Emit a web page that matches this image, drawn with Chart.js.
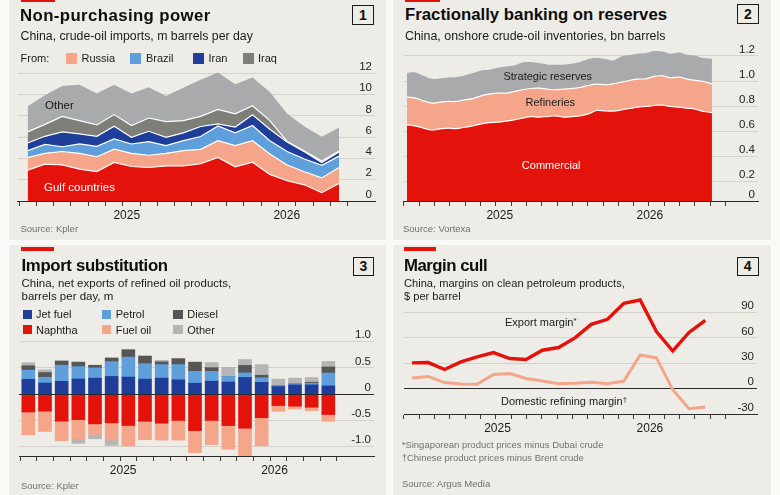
<!DOCTYPE html>
<html><head><meta charset="utf-8">
<script src="https://cdn.jsdelivr.net/npm/chart.js@4.4.1/dist/chart.umd.min.js"></script>
<style>
html,body{margin:0;padding:0}
body{width:780px;height:495px;background:#f9f9f7;position:relative;overflow:hidden;font-family:"Liberation Sans",Arial,sans-serif;color:#141414}
.panel{position:absolute;background:#eeece7}
.tag{position:absolute;background:#e3120b}
.t{position:absolute;white-space:nowrap;line-height:1;transform:translateY(-50%);z-index:5}
.c{transform:translate(-50%,-50%)}
.title{font-weight:700;font-size:16.8px;color:#0d0d0d}
.sub{font-size:11.5px;color:#1a1a1a}
.lg{font-size:11px;color:#1a1a1a}
.src{font-size:9.5px;color:#707070}
.in{font-size:11px;color:#1a1a1a}
.box{position:absolute;border:1.3px solid #1a1a1a;font-weight:700;font-size:14px;display:flex;align-items:center;justify-content:center;box-sizing:border-box;color:#111}
.sw{position:absolute}
canvas{position:absolute}
sup{font-size:0.72em;vertical-align:top;line-height:1}
</style></head><body>

<div class="panel" style="left:9px;top:0;width:377px;height:240px"></div>
<div class="panel" style="left:393px;top:0;width:378px;height:240px"></div>
<div class="panel" style="left:9px;top:245px;width:377px;height:250px"></div>
<div class="panel" style="left:393px;top:245px;width:378px;height:250px"></div>

<div class="tag" style="left:21px;top:0;width:34px;height:2px"></div>
<div class="tag" style="left:405px;top:0;width:35px;height:2px"></div>
<div class="tag" style="left:21px;top:247px;width:33px;height:4px"></div>
<div class="tag" style="left:404px;top:247px;width:32px;height:4px"></div>

<canvas id="c1" width="366" height="174" style="left:17px;top:53px"></canvas>
<canvas id="c2" width="364" height="193" style="left:402px;top:34px"></canvas>
<canvas id="c3" width="364" height="162" style="left:18px;top:320px"></canvas>
<canvas id="c4" width="363" height="153" style="left:402px;top:287px"></canvas>

<!-- Panel 1 text -->
<div class="t title" style="left:20px;top:15.5px;letter-spacing:0.4px">Non-purchasing power</div>
<div class="box" style="left:352px;top:5px;width:22px;height:20px">1</div>
<div class="t sub" style="left:20.5px;top:36px;font-size:12.3px">China, crude-oil imports, m barrels per day</div>
<div class="t lg" style="left:20.5px;top:58px">From:</div>
<div class="sw" style="left:65.5px;top:52.5px;width:11px;height:11px;background:#f4a58a"></div>
<div class="t lg" style="left:81.5px;top:58px">Russia</div>
<div class="sw" style="left:130px;top:52.5px;width:11px;height:11px;background:#5e9fdc"></div>
<div class="t lg" style="left:146px;top:58px">Brazil</div>
<div class="sw" style="left:193px;top:52.5px;width:11px;height:11px;background:#1f3e9a"></div>
<div class="t lg" style="left:208.5px;top:58px">Iran</div>
<div class="sw" style="left:243px;top:52.5px;width:11px;height:11px;background:#7e7f79"></div>
<div class="t lg" style="left:258px;top:58px">Iraq</div>
<div class="t in" style="left:45px;top:106px;font-size:11.5px">Other</div>
<div class="t in" style="left:44px;top:188px;font-size:11.5px;color:#fff">Gulf countries</div>
<div class="t src" style="left:20.5px;top:229px">Source: Kpler</div>

<!-- Panel 2 text -->
<div class="t title" style="left:405px;top:15px">Fractionally banking on reserves</div>
<div class="box" style="left:737px;top:4px;width:22px;height:20px">2</div>
<div class="t sub" style="left:405px;top:36px;font-size:12.4px">China, onshore crude-oil inventories, bn barrels</div>
<div class="t in c" style="left:547.8px;top:76px">Strategic reserves</div>
<div class="t in c" style="left:550.3px;top:101.7px">Refineries</div>
<div class="t in c" style="left:551.2px;top:165px;color:#fff">Commercial</div>
<div class="t src" style="left:403px;top:229px">Source: Vortexa</div>

<!-- Panel 3 text -->
<div class="t title" style="left:21.5px;top:265.7px;letter-spacing:-0.35px">Import substitution</div>
<div class="box" style="left:353px;top:256.5px;width:21px;height:19.5px">3</div>
<div class="t sub" style="left:21.5px;top:284.3px">China, net exports of refined oil products,</div>
<div class="t sub" style="left:21.5px;top:296.7px">barrels per day, m</div>
<div class="sw" style="left:22.5px;top:309.5px;width:9.5px;height:9.5px;background:#1f3e9a"></div>
<div class="t lg" style="left:36px;top:314.3px">Jet fuel</div>
<div class="sw" style="left:101.5px;top:309.5px;width:9.5px;height:9.5px;background:#5e9fdc"></div>
<div class="t lg" style="left:115.7px;top:314.3px">Petrol</div>
<div class="sw" style="left:173.3px;top:309.5px;width:9.5px;height:9.5px;background:#565656"></div>
<div class="t lg" style="left:187.3px;top:314.3px">Diesel</div>
<div class="sw" style="left:22.5px;top:324.7px;width:9.5px;height:9.5px;background:#e3120b"></div>
<div class="t lg" style="left:36px;top:329.5px">Naphtha</div>
<div class="sw" style="left:101.5px;top:324.7px;width:9.5px;height:9.5px;background:#f4a58a"></div>
<div class="t lg" style="left:115.7px;top:329.5px">Fuel oil</div>
<div class="sw" style="left:173.3px;top:324.7px;width:9.5px;height:9.5px;background:#b5b5b5"></div>
<div class="t lg" style="left:187.3px;top:329.5px">Other</div>
<div class="t src" style="left:21px;top:485.7px">Source: Kpler</div>

<!-- Panel 4 text -->
<div class="t title" style="left:404px;top:265.7px;letter-spacing:-0.5px">Margin cull</div>
<div class="box" style="left:737px;top:256.5px;width:21.5px;height:19.5px">4</div>
<div class="t sub" style="left:404px;top:284.3px;font-size:11.1px">China, margins on clean petroleum products,</div>
<div class="t sub" style="left:404px;top:296.7px;font-size:11.1px">$ per barrel</div>
<div class="t in" style="left:505px;top:322px">Export margin<sup>*</sup></div>
<div class="t in" style="left:501px;top:400.7px">Domestic refining margin<sup>†</sup></div>
<div class="t src" style="left:401.7px;top:445px">*Singaporean product prices minus Dubai crude</div>
<div class="t src" style="left:401.7px;top:458.3px">†Chinese product prices minus Brent crude</div>
<div class="t src" style="left:402px;top:484.3px">Source: Argus Media</div>

<script>
// ---------------- Panel 1: crude imports, m b/d (monthly) ----------------
const p1Gulf   = [2.9,3.47,3.4,3.0,2.77,3.62,3.24,3.15,3.3,3.3,3.5,4.1,3.22,3.65,2.5,1.9,1.52,0.78,1.65];
const p1Russia = [1.17,1.01,1.25,1.48,1.39,1.26,1.24,1.15,1.18,1.43,1.35,1.57,1.98,2.02,1.91,1.48,1.23,1.39,1.5];
const p1Brazil = [0.66,0.84,0.45,0.88,0.97,0.95,0.88,1.28,0.72,0.94,1.21,1.38,1.2,1.43,1.26,1.27,1.2,1.18,1.07];
const p1Iran   = [0.72,0.76,1.4,0.94,0.95,1.2,0.62,0.97,0.78,0.73,0.94,0.2,0.55,1.0,1.08,0.9,0.67,0.27,0.38];
const p1Iraq   = [1.05,1.12,1.45,1.25,1.07,1.09,1.12,1.25,1.48,1.16,0.95,1.35,1.25,0.85,0.8,0.05,0.08,0.13,0.1];
const p1Other  = [2.4,2.75,2.85,3.37,2.95,2.8,3.0,2.88,2.42,3.09,3.45,3.48,2.78,2.65,2.7,2.6,2.3,2.3,2.2];
const p1YTicks = [0,2,4,6,8,10,12];

// ---------------- Panel 2: inventories, bn barrels (fortnightly) ----------------
const p2Commercial = [0.652,0.644,0.626,0.612,0.62,0.626,0.622,0.633,0.644,0.66,0.67,0.673,0.681,0.692,0.705,0.718,0.713,0.718,0.724,0.713,0.718,0.724,0.739,0.766,0.763,0.761,0.771,0.782,0.793,0.798,0.806,0.809,0.798,0.793,0.785,0.777,0.758,0.75];
const p2Refineries = [0.22,0.221,0.217,0.213,0.213,0.212,0.216,0.218,0.217,0.223,0.226,0.231,0.223,0.225,0.226,0.223,0.231,0.218,0.207,0.223,0.223,0.225,0.226,0.21,0.208,0.217,0.221,0.223,0.223,0.22,0.231,0.233,0.228,0.239,0.231,0.228,0.239,0.228];
const p2Strategic  = [0.192,0.204,0.199,0.193,0.188,0.191,0.194,0.194,0.203,0.202,0.194,0.202,0.212,0.207,0.217,0.21,0.199,0.196,0.199,0.194,0.197,0.202,0.21,0.207,0.204,0.186,0.204,0.202,0.202,0.205,0.202,0.194,0.192,0.196,0.194,0.197,0.186,0.2];
const p2YTicks = [0.2,0.4,0.6,0.8,1.0,1.2];

// ---------------- Panel 3: net exports of refined products, m b/d ----------------
const p3Jet     = [0.284,0.213,0.245,0.29,0.306,0.339,0.326,0.287,0.306,0.274,0.21,0.248,0.232,0.319,0.226,0.145,0.177,0.177,0.158];
const p3Petrol  = [0.174,0.11,0.306,0.235,0.194,0.281,0.381,0.294,0.258,0.29,0.226,0.187,0.106,0.087,0.087,0.016,0.019,0.032,0.245];
const p3Diesel  = [0.084,0.09,0.081,0.087,0.052,0.071,0.139,0.145,0.052,0.113,0.174,0.071,0,0.142,0.048,0,0,0.019,0.116];
const p3Other   = [0.058,0.052,0,-0.087,-0.084,-0.103,0,0,0.029,0,0,0.097,0.174,0.113,0.203,0.126,0.11,0.09,0.106];
const p3Naphtha = [-0.339,-0.323,-0.513,-0.484,-0.565,-0.545,-0.597,-0.516,-0.552,-0.5,-0.694,-0.5,-0.597,-0.648,-0.448,-0.216,-0.229,-0.248,-0.387];
const p3FuelOil = [-0.435,-0.387,-0.374,-0.365,-0.2,-0.326,-0.387,-0.352,-0.323,-0.374,-0.419,-0.458,-0.452,-0.529,-0.535,-0.11,-0.052,-0.065,-0.129];
const p3YTicks = [-1,-0.5,0,0.5,1];

// ---------------- Panel 4: margins, $ per barrel ----------------
const p4Export   = [30.4,30.8,22.6,31.6,37.5,42.6,35.6,34.4,45.4,48.6,60,76,82,100.8,104.7,67.5,44.5,66.4,80.7];
const p4Domestic = [12.6,14.4,7.1,5.5,5.1,16.6,17.8,11.9,9.0,5.9,6.3,7.5,5.9,9.0,39.8,36.3,-1.2,-23.7,-21.8];
const p4YTicks = [-30,0,30,60,90];

// ---------------- shared axis labels ----------------
const yearLabels = ['2025','2026'];
const p1YearPos = [5.73,14.98];
const p2YearPos = [11.26,29.47];
const p3YearPos = [5.69,14.77];
const p4YearPos = [5.25,14.6];

// styling
const FONT = '"Liberation Sans", Arial, sans-serif';
const C = {red:'#e3120b', salmon:'#f4a58a', lblue:'#5e9fdc', dblue:'#1f3e9a', iraq:'#7e7f79', grey:'#a9aaac', diesel:'#565656', other3:'#b5b5b5'};
const GRID = '#d5d2cc', DARK = '#2b2b2b';

const monthTicks = Array.from({length:20},(_,k)=>k-0.5);
const p2TickPos = Array.from({length:22},(_,k)=>(15.4*k-3)/8.289);
const p4TickPos = Array.from({length:22},(_,k)=>(15.4*k-8)/16.39);

function xScale(min,max,tickVals,yearVals,stacked){
  return {
    type:'linear', min, max, stacked:!!stacked, offset:false,
    afterBuildTicks: ax => { ax.ticks = tickVals.concat(yearVals).sort((a,b)=>a-b).map(v=>({value:v})); },
    afterFit: s => { s.height = 26; },
    ticks:{autoSkip:false, maxRotation:0, minRotation:0, padding:2, color:'#1a1a1a', font:{family:FONT,size:12},
      callback: v => { const k = yearVals.indexOf(v); return k>=0 ? yearLabels[k] : ''; }},
    grid:{drawOnChartArea:false, drawTicks:true, tickLength:5, tickWidth:1, offset:false,
      tickColor: c => (c.tick && yearVals.indexOf(c.tick.value)>=0) ? 'rgba(0,0,0,0)' : '#3a3a3a'},
    border:{display:true, color:DARK, width:1}
  };
}
function yScale(min,max,tickVals,fmt,darkVals,stacked){
  return {
    type:'linear', position:'right', min, max, stacked:!!stacked,
    afterBuildTicks: ax => { ax.ticks = tickVals.map(v=>({value:v})); },
    afterFit: s => { s.width = 0; },
    ticks:{mirror:true, padding:-3, labelOffset:-6.5, autoSkip:false, color:'#222', font:{family:FONT,size:11.5}, callback:fmt},
    grid:{drawTicks:false, lineWidth:1, color: c => (c.tick && darkVals.indexOf(c.tick.value)>=0) ? DARK : GRID},
    border:{display:false}
  };
}
function baseOpts(xs,ys){
  return {animation:false, responsive:false, devicePixelRatio:1,
    layout:{padding:{top:10,right:8,left:0,bottom:0}},
    plugins:{legend:{display:false}, tooltip:{enabled:false}},
    elements:{point:{radius:0}, line:{borderJoinStyle:'miter'}},
    scales:{x:xs, y:ys}};
}
const pts = arr => arr.map((v,i)=>({x:i,y:v}));

// ---------- Chart 1 ----------
const p1Series = [
  {label:'Gulf countries', data:p1Gulf, color:C.red},
  {label:'Russia', data:p1Russia, color:C.salmon},
  {label:'Brazil', data:p1Brazil, color:C.lblue},
  {label:'Iran', data:p1Iran, color:C.dblue},
  {label:'Iraq', data:p1Iraq, color:C.iraq},
  {label:'Other', data:p1Other, color:C.grey}
];
new Chart(document.getElementById('c1'), {
  type:'line',
  data:{datasets:p1Series.map((s,k)=>({label:s.label, data:pts(s.data), backgroundColor:s.color,
    borderColor: k===p1Series.length-1 ? s.color : '#ffffff', borderWidth: k===p1Series.length-1 ? 0 : 1.2,
    fill: k===0 ? 'origin' : '-1', pointRadius:0, tension:0}))},
  options: baseOpts(xScale(-0.577,20.08,monthTicks,p1YearPos), yScale(0,12.97,p1YTicks,v=>String(v),[0],true))
});

// ---------- Chart 2 ----------
const p2Min = 0.0465;
const p2Series = [
  {label:'Commercial', data:p2Commercial, color:C.red},
  {label:'Refineries', data:p2Refineries, color:C.salmon},
  {label:'Strategic reserves', data:p2Strategic, color:C.grey}
];
new Chart(document.getElementById('c2'), {
  type:'line',
  data:{datasets:p2Series.map((s,k)=>({label:s.label, data:pts(s.data), backgroundColor:s.color,
    borderColor: k===p2Series.length-1 ? s.color : '#ffffff', borderWidth: k===p2Series.length-1 ? 0 : 1.2,
    fill: k===0 ? 'start' : '-1', pointRadius:0, tension:0.3}))},
  options: baseOpts(xScale(-0.362,42.59,p2TickPos,p2YearPos),
    yScale(p2Min,1.295,[p2Min].concat(p2YTicks),v=>(v<0.1?'0':v.toFixed(1)),[p2Min],true))
});

// ---------- Chart 3 ----------
const zeroLine = {id:'zeroLine', afterDatasetsDraw(chart){
  const {ctx, chartArea:a, scales:{y}} = chart; const py = Math.round(y.getPixelForValue(0))+0.5;
  ctx.save(); ctx.strokeStyle = DARK; ctx.lineWidth = 1.2; ctx.beginPath(); ctx.moveTo(a.left,py); ctx.lineTo(a.right,py); ctx.stroke(); ctx.restore();
}};
const p3Series = [
  {label:'Jet fuel', data:p3Jet, color:C.dblue},
  {label:'Naphtha', data:p3Naphtha, color:C.red},
  {label:'Petrol', data:p3Petrol, color:C.lblue},
  {label:'Fuel oil', data:p3FuelOil, color:C.salmon},
  {label:'Diesel', data:p3Diesel, color:C.diesel},
  {label:'Other', data:p3Other, color:C.other3}
];
new Chart(document.getElementById('c3'), {
  type:'bar',
  data:{datasets:p3Series.map(s=>({label:s.label, data:pts(s.data), backgroundColor:s.color, borderWidth:0, barThickness:13}))},
  options: baseOpts(xScale(-0.556,20.74,monthTicks,p3YearPos,true),
    yScale(-1.177,1.223,p3YTicks,v=>(v===0?'0':v.toFixed(1)),[0],true)),
  plugins:[zeroLine]
});

// ---------- Chart 4 ----------
new Chart(document.getElementById('c4'), {
  type:'line',
  data:{datasets:[
    {label:'Export margin', data:pts(p4Export), borderColor:C.red, borderWidth:3.4, fill:false, pointRadius:0, tension:0},
    {label:'Domestic refining margin', data:pts(p4Domestic), borderColor:C.salmon, borderWidth:3, fill:false, pointRadius:0, tension:0}
  ]},
  options: baseOpts(xScale(-0.488,21.17,p4TickPos,p4YearPos),
    yScale(-30,108.3,p4YTicks,v=>String(v),[0,-30],false))
});
</script>
</body></html>
